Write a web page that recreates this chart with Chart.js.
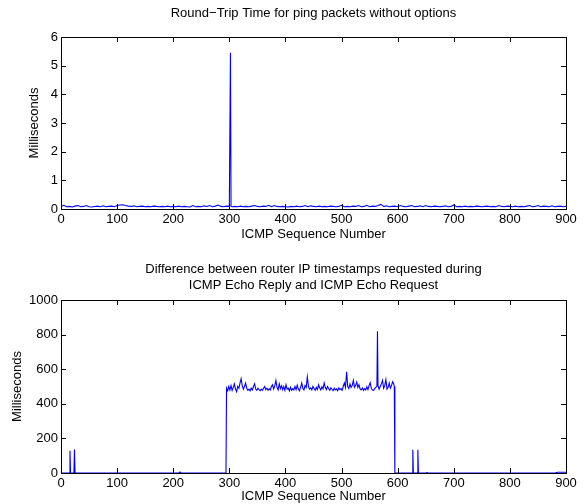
<!DOCTYPE html>
<html>
<head>
  <title>ICMP ping timing</title>
  <style>
    body { margin: 0; background: #fff; }
    canvas { display: block; }
  </style>
</head>
<body>
<canvas id="rttChart" width="588" height="252"></canvas>
<canvas id="diffChart" width="588" height="252"></canvas>

<script src="https://cdn.jsdelivr.net/npm/chart.js"></script>
<script>
  // top plot: round-trip time per ICMP sequence number (ms)
  const rttSeq = [
    0,5,10,15,20,25,30,35,40,45,50,55,60,65,70,75,80,85,90,95,
    100,105,110,115,120,125,130,135,140,145,150,155,160,165,170,175,180,185,190,195,
    200,205,210,215,220,225,230,235,240,245,250,255,260,265,270,275,280,285,290,295,
    300,301,302,303,
    305,310,315,320,325,330,335,340,345,350,355,360,365,370,375,380,385,390,395,
    400,405,410,415,420,425,430,435,440,445,450,455,460,465,470,475,480,485,490,495,
    500,505,510,515,520,525,530,535,540,545,550,555,560,565,570,575,580,585,590,595,
    600,605,610,615,620,625,630,635,640,645,650,655,660,665,670,675,680,685,690,695,
    700,705,710,715,720,725,730,735,740,745,750,755,760,765,770,775,780,785,790,795,
    800,805,810,815,820,825,830,835,840,845,850,855,860,865,870,875,880,885,890,895,900
  ];
  const rttMs = [
    0.09,0.13,0.08,0.09,0.07,0.10,0.12,0.08,0.09,0.12,0.08,0.07,0.09,0.10,0.08,0.11,0.08,0.09,0.10,0.08,
    0.12,0.14,0.15,0.12,0.10,0.09,0.11,0.08,0.09,0.10,0.08,0.09,0.08,0.10,0.09,0.08,0.09,0.08,0.10,0.08,
    0.09,0.08,0.10,0.08,0.09,0.08,0.07,0.12,0.08,0.09,0.08,0.11,0.09,0.12,0.08,0.10,0.14,0.09,0.08,0.10,
    0.09,0.09,5.45,0.10,
    0.08,0.09,0.08,0.10,0.08,0.09,0.08,0.10,0.12,0.09,0.08,0.10,0.09,0.13,0.08,0.12,0.09,0.08,0.09,
    0.08,0.07,0.09,0.08,0.10,0.08,0.09,0.12,0.08,0.11,0.09,0.08,0.10,0.08,0.09,0.08,0.10,0.09,0.08,0.09,
    0.13,0.08,0.09,0.08,0.10,0.09,0.12,0.08,0.09,0.13,0.08,0.10,0.09,0.12,0.16,0.09,0.11,0.08,0.09,0.10,
    0.08,0.12,0.09,0.08,0.10,0.12,0.08,0.09,0.11,0.08,0.12,0.09,0.08,0.10,0.09,0.08,0.09,0.11,0.08,0.09,
    0.14,0.08,0.09,0.08,0.10,0.08,0.09,0.08,0.10,0.09,0.08,0.09,0.10,0.08,0.09,0.08,0.12,0.09,0.08,0.10,
    0.09,0.08,0.10,0.08,0.09,0.08,0.10,0.12,0.08,0.09,0.12,0.08,0.10,0.09,0.08,0.11,0.08,0.09,0.10,0.08,0.09
  ];

  // bottom plot: difference of router IP timestamps (ms)
  const diffSeq = [
    0,15,16,17,23,24,25,210,212,214,294,
    295,297,299,301,303,305,307,309,311,313,315,317,319,321,323,325,327,329,331,333,
    335,337,339,341,343,345,347,349,351,353,355,357,359,361,363,365,367,369,371,373,
    375,377,379,381,383,385,387,389,391,393,395,397,399,401,403,405,407,409,411,413,
    415,417,419,421,423,425,427,429,431,433,435,437,439,441,443,445,447,449,451,453,
    455,457,459,461,463,465,467,469,471,473,475,477,479,481,483,485,487,489,491,493,
    495,497,499,501,503,505,507,509,511,513,515,517,519,521,523,525,527,529,531,533,
    535,537,539,541,543,545,547,549,551,553,555,557,559,561,563,564,565,567,569,571,
    573,575,577,579,581,583,585,587,589,591,593,594,
    595,626,627,628,635,636,637,650,652,654,880,885,900
  ];
  const diffMs = [
    0,0,129,0,0,136,0,0,6,0,0,
    490,475,500,480,505,478,495,515,485,470,500,490,520,545,505,485,500,520,490,478,
    485,475,490,480,500,515,485,478,490,482,476,485,478,490,500,482,490,478,486,480,
    500,510,485,505,535,495,480,515,488,505,482,500,478,510,485,490,475,495,478,488,
    480,500,482,508,485,475,495,520,490,480,505,495,555,500,485,492,480,500,488,478,
    495,482,510,492,480,498,486,520,495,482,500,488,478,492,484,476,490,480,486,475,
    492,482,488,478,500,520,495,585,500,488,515,495,505,535,495,505,525,495,510,486,
    480,492,478,488,480,498,482,505,522,490,480,478,488,495,500,820,505,485,500,515,
    535,490,505,540,485,495,520,490,505,528,515,500,
    0,0,135,0,0,135,0,0,3,0,0,4,4
  ];

  const xTicks = { min: 0, max: 900, step: 100 };

  Chart.defaults.font.family = '"Liberation Sans", Arial, Helvetica, sans-serif';
  Chart.defaults.font.size = 13;
  Chart.defaults.color = '#000';

  // MATLAB style box with inward tick marks on all four sides
  const boxAxes = {
    id: 'boxAxes',
    afterDatasetsDraw(chart) {
      const { ctx, chartArea: a, scales } = chart;
      ctx.save();
      ctx.strokeStyle = '#000';
      ctx.lineWidth = 1;
      ctx.beginPath();
      scales.x.ticks.forEach(t => {
        const px = Math.round(scales.x.getPixelForValue(t.value)) + 0.5;
        ctx.moveTo(px, a.bottom); ctx.lineTo(px, a.bottom - 5);
        ctx.moveTo(px, a.top); ctx.lineTo(px, a.top + 5);
      });
      scales.y.ticks.forEach(t => {
        const py = Math.round(scales.y.getPixelForValue(t.value)) + 0.5;
        ctx.moveTo(a.left, py); ctx.lineTo(a.left + 5, py);
        ctx.moveTo(a.right, py); ctx.lineTo(a.right - 5, py);
      });
      ctx.stroke();
      ctx.strokeRect(Math.round(a.left) + 0.5, Math.round(a.top) + 0.5,
        Math.round(a.right - a.left), Math.round(a.bottom - a.top));
      ctx.restore();
    }
  };

  function makeChart(id, seq, ms, cfg) {
    return new Chart(document.getElementById(id), {
      type: 'line',
      data: {
        datasets: [{
          data: seq.map((x, i) => ({ x: x, y: ms[i] })),
          borderColor: '#0000ff',
          borderWidth: 1.1,
          pointRadius: 0,
          tension: 0,
          fill: false
        }]
      },
      options: {
        responsive: false,
        animation: false,
        layout: { padding: { left: 0, right: 22, top: 0, bottom: 0 } },
        plugins: {
          legend: { display: false },
          tooltip: { enabled: false },
          title: {
            display: true,
            fullSize: false,   // center over the axes like matlab
            text: cfg.title,
            color: '#000',
            font: { size: 13, weight: 'normal' },
            padding: cfg.titlePad
          }
        },
        scales: {
          x: {
            type: 'linear',
            min: xTicks.min,
            max: xTicks.max,
            ticks: { stepSize: xTicks.step, padding: 3, color: '#000', maxRotation: 0 },
            grid: { display: false, drawTicks: false },
            border: { display: false },
            title: {
              display: true,
              text: 'ICMP Sequence Number',
              color: '#000',
              padding: { top: 0, bottom: cfg.xTitleBottom }
            },
            afterFit: s => { s.height = cfg.xHeight; }
          },
          y: {
            min: 0,
            max: cfg.yMax,
            ticks: {
              stepSize: cfg.yStep,
              padding: 3,
              color: '#000',
              callback: v => String(v)
            },
            grid: { display: false, drawTicks: false },
            border: { display: false },
            title: {
              display: true,
              text: 'Milliseconds',
              color: '#000',
              padding: { top: cfg.yTitleLeft, bottom: 0 }
            },
            afterFit: s => { s.width = 61; }
          }
        }
      },
      plugins: [boxAxes]
    });
  }

  makeChart('rttChart', rttSeq, rttMs, {
    title: 'Round\u2212Trip Time for ping packets without options',
    titlePad: { top: 5.2, bottom: 16.2 },
    xHeight: 43,
    xTitleBottom: 10,
    yMax: 6,
    yStep: 1,
    yTitleLeft: 27
  });

  makeChart('diffChart', diffSeq, diffMs, {
    title: ['Difference between router IP timestamps requested during',
            'ICMP Echo Reply and ICMP Echo Request'],
    titlePad: { top: 9.8, bottom: 7 },
    xHeight: 31,
    xTitleBottom: 0,
    yMax: 1000,
    yStep: 200,
    yTitleLeft: 10
  });
</script>
</body>
</html>
